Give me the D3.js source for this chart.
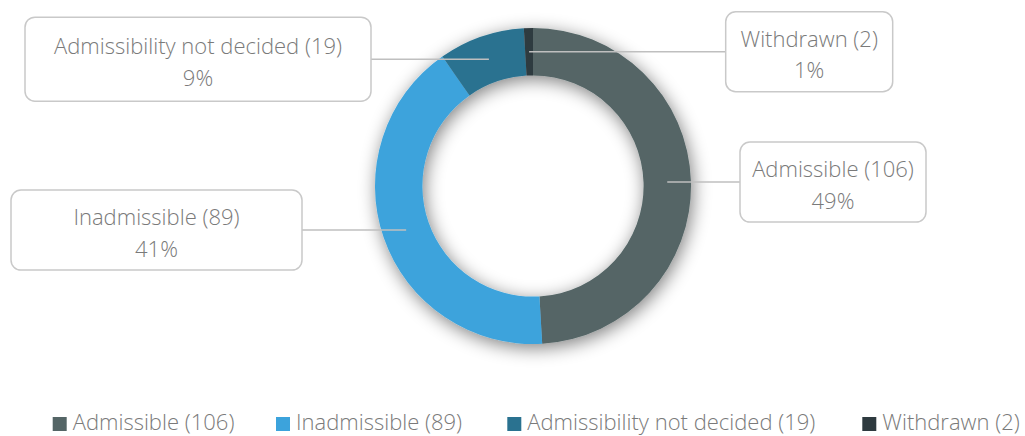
<!DOCTYPE html>
<html>
<head>
<meta charset="utf-8">
<script src="https://cdn.jsdelivr.net/npm/d3@7/dist/d3.min.js"></script>
<style>
  html, body { margin: 0; padding: 0; background: #ffffff; }
  svg { display: block; }
  text { font-family: "Open Sans", Lato, sans-serif; font-weight: 300; fill: #7a7a7a; }
</style>
</head>
<body>
<svg id="chart" width="1025" height="436"></svg>
<script>
// ---- data ----
const categories = ["Admissible", "Inadmissible", "Admissibility not decided", "Withdrawn"];
const counts = [106, 89, 19, 2];
const percentLabels = ["49%", "41%", "9%", "1%"];
const colors = ["#546566", "#3ca3dc", "#2a7290", "#2e3a3f"];

// ---- layout ----
const W = 1025, H = 436;
const cx = 533, cy = 186, rOuter = 158, rInner = 110.6;
const fontSize = 22;
// label boxes: left x, width, height (vertical centre follows slice centroid)
const boxes = [
  { x: 740, w: 186, h: 80 },
  { x: 11, w: 291, h: 80 },
  { x: 25, w: 346, h: 84 },
  { x: 725.7, w: 167, h: 80 }
];
// legend item square x positions
const legendX = [52.7, 276, 507.3, 862.3];
const legendY = 417, legendSq = 14;

const data = categories.map((c, i) => ({ name: c, value: counts[i], pct: percentLabels[i], color: colors[i], box: boxes[i] }));

const svg = d3.select("#chart");
const defs = svg.append("defs");
const f = defs.append("filter").attr("id", "shadow")
  .attr("x", "-30%").attr("y", "-30%").attr("width", "160%").attr("height", "160%");
f.append("feGaussianBlur").attr("in", "SourceAlpha").attr("stdDeviation", 9).attr("result", "b");
f.append("feOffset").attr("in", "b").attr("dx", 2).attr("dy", 4).attr("result", "o");
f.append("feComponentTransfer").attr("in", "o").attr("result", "s")
  .append("feFuncA").attr("type", "linear").attr("slope", 0.5);
const m = f.append("feMerge");
m.append("feMergeNode").attr("in", "s");
m.append("feMergeNode").attr("in", "SourceGraphic");

const pie = d3.pie().sort(null).value(d => d.value).startAngle(0).endAngle(2 * Math.PI);
const arc = d3.arc().innerRadius(rInner).outerRadius(rOuter);
const arcs = pie(data);

const g = svg.append("g").attr("transform", `translate(${cx},${cy})`);
g.append("g").attr("filter", "url(#shadow)")
  .selectAll("path").data(arcs).join("path")
  .attr("d", arc)
  .attr("fill", d => d.data.color);

// leader lines + label boxes
arcs.forEach(a => {
  const [px, py] = arc.centroid(a);
  const ax = cx + px, ay = cy + py;
  const b = a.data.box;
  const bx = b.x, bw = b.w, bh = b.h, by = ay - bh / 2;
  const edgeX = (bx > ax) ? bx : bx + bw;
  svg.append("line")
    .attr("x1", ax).attr("y1", ay).attr("x2", edgeX).attr("y2", ay)
    .attr("stroke", "#bfbfbf").attr("stroke-width", 1.5);
  svg.append("rect")
    .attr("x", bx).attr("y", by).attr("width", bw).attr("height", bh)
    .attr("rx", 10).attr("ry", 10)
    .attr("fill", "#ffffff").attr("stroke", "#c9c9c9").attr("stroke-width", 1.5);
  const t = svg.append("text").attr("text-anchor", "middle").style("font-size", fontSize + "px");
  t.append("tspan").attr("x", bx + bw / 2).attr("y", ay - 5).text(`${a.data.name} (${a.data.value})`);
  t.append("tspan").attr("x", bx + bw / 2).attr("y", ay + 26.5).text(a.data.pct);
});

// legend
const lg = svg.append("g");
data.forEach((d, i) => {
  lg.append("rect").attr("x", legendX[i]).attr("y", legendY).attr("width", legendSq).attr("height", legendSq).attr("fill", d.color);
  lg.append("text").attr("x", legendX[i] + legendSq + 6).attr("y", 430)
    .style("font-size", fontSize + "px").text(`${d.name} (${d.value})`);
});
</script>
</body>
</html>
